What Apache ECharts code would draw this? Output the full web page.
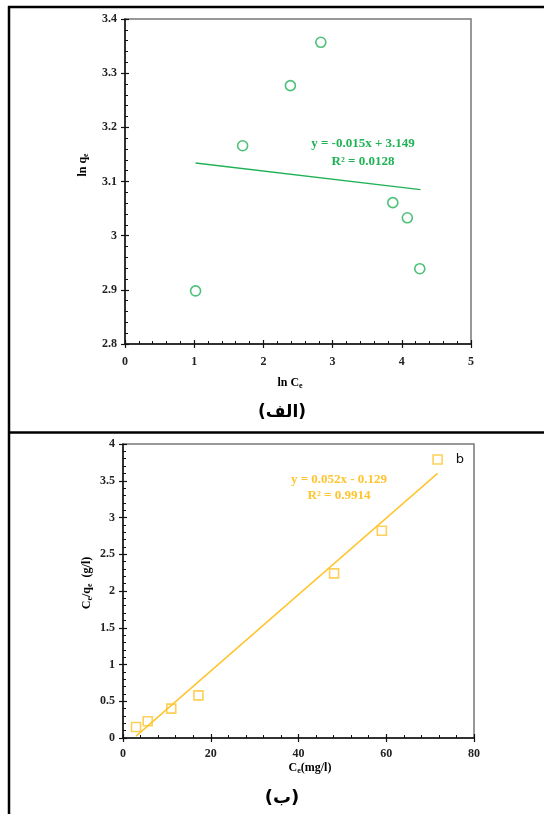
<!DOCTYPE html>
<html>
<head>
<meta charset="utf-8">
<script src="https://cdn.jsdelivr.net/npm/echarts@6/dist/echarts.min.js"></script>
<style>
html,body{margin:0;padding:0;background:#fff;}
#c{width:544px;height:814px;}
</style>
</head>
<body>
<div id="c"></div>
<script>
// ---- Chart (الف): ln qe vs ln Ce ----
const lnCe = [1.02, 1.70, 2.39, 2.83, 3.87, 4.08, 4.26];
const lnQe = [2.898, 3.166, 3.277, 3.357, 3.061, 3.033, 2.939];
const fitAx = [1.02, 4.27];
const fitAy = [3.134, 3.085];
const xTicksA = [0, 1, 2, 3, 4, 5];
const yTicksA = [2.8, 2.9, 3.0, 3.1, 3.2, 3.3, 3.4];
const eqA = ['y = -0.015x + 3.149', 'R² = 0.0128'];

// ---- Chart (ب): Ce/qe vs Ce ----
const ce = [2.97, 5.63, 11.0, 17.2, 48.1, 59.0, 71.7];
const ceQe = [0.15, 0.228, 0.40, 0.58, 2.24, 2.82, 3.79];
const fitBx = [2.97, 71.7];
const fitBy = [0.025, 3.60];
const xTicksB = [0, 20, 40, 60, 80];
const yTicksB = [0, 0.5, 1, 1.5, 2, 2.5, 3, 3.5, 4];
const eqB = ['y = 0.052x - 0.129', 'R² = 0.9914'];

const green = '#1fb255';
const gold = '#ffc42e';
const serif = '"Liberation Serif", "Times New Roman", serif';

function pairs(xs, ys) { return xs.map((x, i) => [x, ys[i]]); }

const labelStyle = { fontFamily: serif, fontWeight: 'bold', fontSize: 12, color: '#222' };

function mainAxis(grid, ticks, minorSplit, margin, pos) {
  return {
    type: 'value', gridIndex: grid, position: pos,
    min: ticks[0], max: ticks[ticks.length - 1], interval: +(ticks[1] - ticks[0]).toFixed(4),
    axisLine: { show: true, onZero: false, lineStyle: { color: '#111', width: 1.5 } },
    axisTick: { show: true, inside: true, length: 4, lineStyle: { color: '#111', width: 1.2 } },
    minorTick: { show: true, splitNumber: minorSplit, length: 3, lineStyle: { color: '#111', width: 1 } },
    splitLine: { show: false },
    axisLabel: Object.assign({ margin: margin, formatter: function (v) { return String(+(+v).toFixed(3)); } }, labelStyle)
  };
}
function tickAxis(grid, ticks, pos) {
  return {
    type: 'value', gridIndex: grid, position: pos,
    min: ticks[0], max: ticks[ticks.length - 1], interval: +(ticks[1] - ticks[0]).toFixed(4),
    axisLine: { show: false, onZero: false },
    axisTick: { show: true, inside: false, length: 4, lineStyle: { color: '#111', width: 1.2 } },
    axisLabel: { show: false },
    splitLine: { show: false }
  };
}

const subRich = {
  m: { fontFamily: serif, fontWeight: 'bold', fontSize: 12, color: '#222' },
  s: { fontFamily: serif, fontWeight: 'bold', fontSize: 8, color: '#222', padding: [5, 0, 0, 0] }
};

const option = {
  animation: false,
  backgroundColor: '#fff',
  grid: [
    { left: 125, top: 19, width: 346, height: 325, show: true, borderColor: '#777', borderWidth: 1.5, backgroundColor: 'transparent' },
    { left: 123, top: 444, width: 351, height: 294, show: true, borderColor: '#777', borderWidth: 1.5, backgroundColor: 'transparent' }
  ],
  xAxis: [
    mainAxis(0, xTicksA, 5, 12, 'bottom'),
    tickAxis(0, xTicksA, 'bottom'),
    mainAxis(1, xTicksB, 5, 10, 'bottom'),
    tickAxis(1, xTicksB, 'bottom')
  ],
  yAxis: [
    mainAxis(0, yTicksA, 5, 8, 'left'),
    tickAxis(0, yTicksA, 'left'),
    mainAxis(1, yTicksB, 5, 8, 'left'),
    tickAxis(1, yTicksB, 'left')
  ],
  series: [
    {
      type: 'line', xAxisIndex: 0, yAxisIndex: 0, data: pairs(fitAx, fitAy),
      showSymbol: false, lineStyle: { color: green, width: 1.5 }, z: 2
    },
    {
      type: 'scatter', xAxisIndex: 0, yAxisIndex: 0, data: pairs(lnCe, lnQe),
      symbol: 'circle', symbolSize: 10,
      itemStyle: { color: 'rgba(255,255,255,0)', borderColor: green, borderWidth: 1.6 }, z: 3
    },
    {
      type: 'line', xAxisIndex: 2, yAxisIndex: 2, data: pairs(fitBx, fitBy),
      showSymbol: false, lineStyle: { color: gold, width: 1.5 }, z: 2
    },
    {
      type: 'scatter', xAxisIndex: 2, yAxisIndex: 2, data: pairs(ce, ceQe),
      symbol: 'rect', symbolSize: 9,
      itemStyle: { color: 'rgba(255,255,255,0)', borderColor: gold, borderWidth: 1.6 }, z: 3
    }
  ],
  graphic: [
    // frame lines
    { type: 'line', shape: { x1: 8, y1: 7, x2: 544, y2: 7 }, style: { stroke: '#000', lineWidth: 2.5 } },
    { type: 'line', shape: { x1: 9, y1: 6, x2: 9, y2: 814 }, style: { stroke: '#000', lineWidth: 2.5 } },
    { type: 'line', shape: { x1: 8, y1: 432.5, x2: 544, y2: 432.5 }, style: { stroke: '#000', lineWidth: 2.5 } },
    // equation A
    { type: 'text', x: 363, y: 144, style: { text: eqA[0], fill: green, font: 'bold 13px ' + serif, align: 'center', verticalAlign: 'middle' } },
    { type: 'text', x: 363, y: 162, style: { text: eqA[1], fill: green, font: 'bold 13px ' + serif, align: 'center', verticalAlign: 'middle' } },
    // equation B
    { type: 'text', x: 339, y: 480, style: { text: eqB[0], fill: gold, font: 'bold 13px ' + serif, align: 'center', verticalAlign: 'middle' } },
    { type: 'text', x: 339, y: 496, style: { text: eqB[1], fill: gold, font: 'bold 13px ' + serif, align: 'center', verticalAlign: 'middle' } },
    { type: 'text', x: 460, y: 460, style: { text: 'b', fill: '#111', font: '13px "DejaVu Sans", sans-serif', align: 'center', verticalAlign: 'middle' } },
    // axis names A
    { type: 'text', x: 83, y: 165, rotation: Math.PI / 2,
      style: { text: '{m|ln q}{s|e}', rich: subRich, align: 'center', verticalAlign: 'middle' } },
    { type: 'text', x: 290, y: 383,
      style: { text: '{m|ln C}{s|e}', rich: subRich, align: 'center', verticalAlign: 'middle' } },
    // axis names B
    { type: 'text', x: 87, y: 583, rotation: Math.PI / 2,
      style: { text: '{m|C}{s|e}{m|/q}{s|e}{m|  (g/l)}', rich: subRich, align: 'center', verticalAlign: 'middle' } },
    { type: 'text', x: 310, y: 768,
      style: { text: '{m|C}{s|e}{m|(mg/l)}', rich: subRich, align: 'center', verticalAlign: 'middle' } },
    // panel labels
    { type: 'text', x: 282, y: 413, style: { text: '(الف)', fill: '#000', font: 'bold 17px "DejaVu Sans", sans-serif', align: 'center', verticalAlign: 'middle' } },
    { type: 'text', x: 282, y: 798, style: { text: '(ب)', fill: '#000', font: 'bold 18px "DejaVu Sans", sans-serif', align: 'center', verticalAlign: 'middle' } }
  ]
};

const chart = echarts.init(document.getElementById('c'), null, { renderer: 'canvas' });
chart.setOption(option);
</script>
</body>
</html>
